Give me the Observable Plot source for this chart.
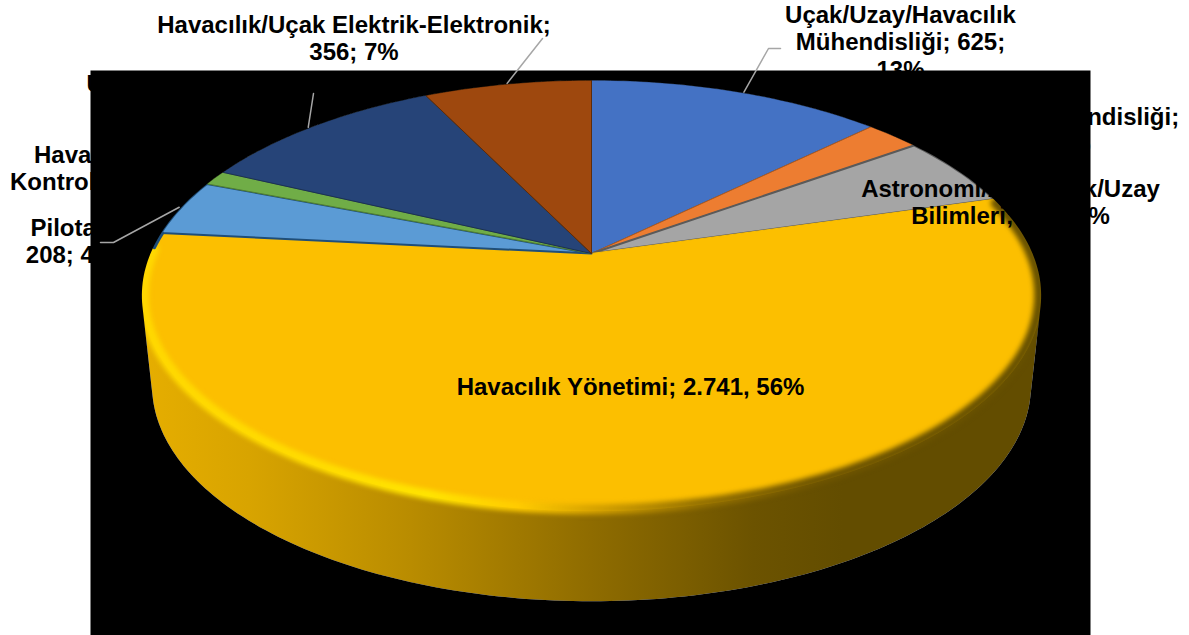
<!DOCTYPE html>
<html><head><meta charset="utf-8">
<script src="https://cdn.jsdelivr.net/npm/d3@7"></script>
<script src="https://cdn.jsdelivr.net/npm/@observablehq/plot@0.6"></script>
<style>html,body{margin:0;padding:0;background:#fff}svg{display:block}</style>
</head><body><div id="chart"></div>
<script>
// Data, clockwise from 12 o'clock
const categories = ["Uçak/Uzay/Havacılık Mühendisliği","Havacılık Mühendisliği","Astronomi/Astrofizik/Uzay Bilimleri","Havacılık Yönetimi","Pilotaj","Hava Trafik Kontrol","Uçak Gövde-Motor Bakım","Havacılık/Uçak Elektrik-Elektronik"];
const values = [625,115,265,2741,208,55,525,356];
const labels = [
 "Uçak/Uzay/Havacılık\nMühendisliği; 625;\n13%",
 "Havacılık Mühendisliği;\n115; 2%",
 "Astronomi/Astrofizik/Uzay\nBilimleri; 265; 5%",
 "Havacılık Yönetimi; 2.741, 56%",
 "Pilotaj;\n208; 4%",
 "Hava Trafik\nKontrol; 55; 1%",
 "Uçak Gövde-Motor Bakım; 525; 11%",
 "Havacılık/Uçak Elektrik-Elektronik;\n356; 7%"
];
const sliceFill = ["#4472c4","#ed7d31","#a5a5a5","#fcbf00","#5b9bd5","#70ad47","#264478","#9e480e"];
const sliceStroke = ["#2f528f","#ae5a21","#5a5a5a","#fcbf00","#1f4e79","#507e32","#1a3055","#5e2b08"];

// Layout (pixels of the page)
const W = 1189, H = 635;
const panel = {x0:90, y0:70, x1:1090, y1:635};
const disc = {cx:591, cy:253, a:441, b:207, p:0.195};
const base = {cx:591, cy:343, a:431, b:207.5, p:0.195};
const labelPos = [[900,41],[1046,129],[1010,201],[630,386],[70,240],[97.5,167],[86,83],[353.5,37]];
const leaderElbows = [
 {slice:0, along:0.52, pts:[[768,48],[780,48]]},
 {slice:7, along:0.5, pts:[[542,38]]},
 {slice:6, along:0.475, pts:[[313,93]]},
 {slice:4, along:0.5, pts:[[113,242],[100,242]]}
];

const project = (t,g=disc,k=1)=>{
  const v=-Math.cos(t)*k, u=Math.sin(t)*k, w=1-g.p*v;
  return {x:g.cx+g.a*u/w, y:g.cy+g.b*v/w};
};
const arcs = d3.pie().sort(null)(values);
const arcPts = (t0,t1,g=disc,k=1)=>{
  const n=Math.max(2,Math.ceil(Math.abs(t1-t0)/(Math.PI/180)));
  return d3.range(n+1).map(i=>project(t0+(t1-t0)*i/n,g,k));
};
const full = Math.PI*2;
const slices = arcs.map(a=>[{x:disc.cx,y:disc.cy},...arcPts(a.startAngle,a.endAngle),{x:disc.cx,y:disc.cy}]);
const hull = d3.polygonHull([...arcPts(0,full),...arcPts(0,full,base)].map(d=>[d.x,d.y]));

// black panel with a hole shaped like the pie's outline
const ring = [[panel.x0,panel.y0],[panel.x1,panel.y0],[panel.x1,panel.y1],[panel.x0,panel.y1],[panel.x0,panel.y0]];
const hole = d3.polygonArea(ring)*d3.polygonArea(hull)>0 ? hull.slice().reverse() : hull.slice();
const maskPts = [...ring,...hole,hole[0],ring[0]].map(([x,y])=>({x,y}));

const yellow = arcs[3];
const rimPts = arcPts(yellow.startAngle+0.02,yellow.endAngle-0.08,disc,0.996);
const cornerPts = arcPts(yellow.endAngle-0.07,yellow.endAngle,disc,0.998);
const labelRows = labels.map((text,i)=>({text,x:labelPos[i][0],y:labelPos[i][1]}));
const hiddenLabel = 6; // sits behind the pie and the panel: only its first letter's edge shows
const leaders = leaderElbows.map(l=>{
  const a=arcs[l.slice], s=project(a.startAngle+(a.endAngle-a.startAngle)*l.along,disc,1.005);
  return [s,...l.pts.map(([x,y])=>({x,y}))];
});

const gradient = (id,stops)=>`<linearGradient id="${id}" gradientUnits="userSpaceOnUse" x1="140" y1="0" x2="1040" y2="0">`+
  stops.map(([o,c])=>`<stop offset="${o}" stop-color="${c}"/>`).join("")+`</linearGradient>`;
const defs = ()=>{
  const g=document.createElementNS("http://www.w3.org/2000/svg","defs");
  g.innerHTML = gradient("side",[[0,"#e6ae00"],[0.12,"#d8a400"],[0.3,"#b98c00"],[0.5,"#8f6c00"],[0.68,"#6c5300"],[0.78,"#634d00"],[1,"#634d00"]])
    + gradient("rim",[[0,"#ffd800"],[0.2,"#ffdc00"],[0.32,"#ffe400"],[0.42,"#ffcb00"],[0.5,"#d8a400"],[0.62,"#967200"],[0.75,"#6f5500"],[1,"#665000"]]);
  return g;
};
const font = {fontFamily:"Liberation Sans, Arial, sans-serif", fontWeight:"bold", fontSize:24};
const textOpts = {x:"x",y:"y",text:"text",textAnchor:"middle",lineAnchor:"middle",lineHeight:1.16,fill:"#000",...font};

const plot = Plot.plot({
  width:W, height:H, margin:0,
  x:{domain:[0,W],range:[0,W],axis:null},
  y:{domain:[0,H],range:[0,H],axis:null},
  style:{background:"#fff"},
  marks:[
    defs,
    Plot.text(labelRows.filter((d,i)=>i===hiddenLabel),{...textOpts,textAnchor:"start"}),
    Plot.line(hull.concat([hull[0]]).map(([x,y])=>({x,y})),{x:"x",y:"y",fill:"url(#side)",stroke:"none",curve:"linear"}),
    ...slices.map((s,i)=>Plot.line(s,{x:"x",y:"y",fill:sliceFill[i],stroke:sliceStroke[i],strokeWidth:i===4||i===2?2:1,curve:"linear",strokeLinejoin:"round"})),
    Plot.line(rimPts,{x:"x",y:"y",stroke:"url(#rim)",strokeWidth:10,curve:"linear",imageFilter:"blur(2.5px)"}),
    Plot.line(cornerPts,{x:"x",y:"y",stroke:"#1f4e79",strokeWidth:4,curve:"linear"}),
    Plot.text(labelRows.filter((d,i)=>i!==hiddenLabel),textOpts),
    Plot.line(maskPts,{x:"x",y:"y",fill:"#000",stroke:"none",curve:"linear"}),
    ...leaders.map(l=>Plot.line(l,{x:"x",y:"y",stroke:"#a6a6a6",strokeWidth:1.5,curve:"linear"}))
  ]
});
document.getElementById("chart").append(plot);
</script></body></html>
